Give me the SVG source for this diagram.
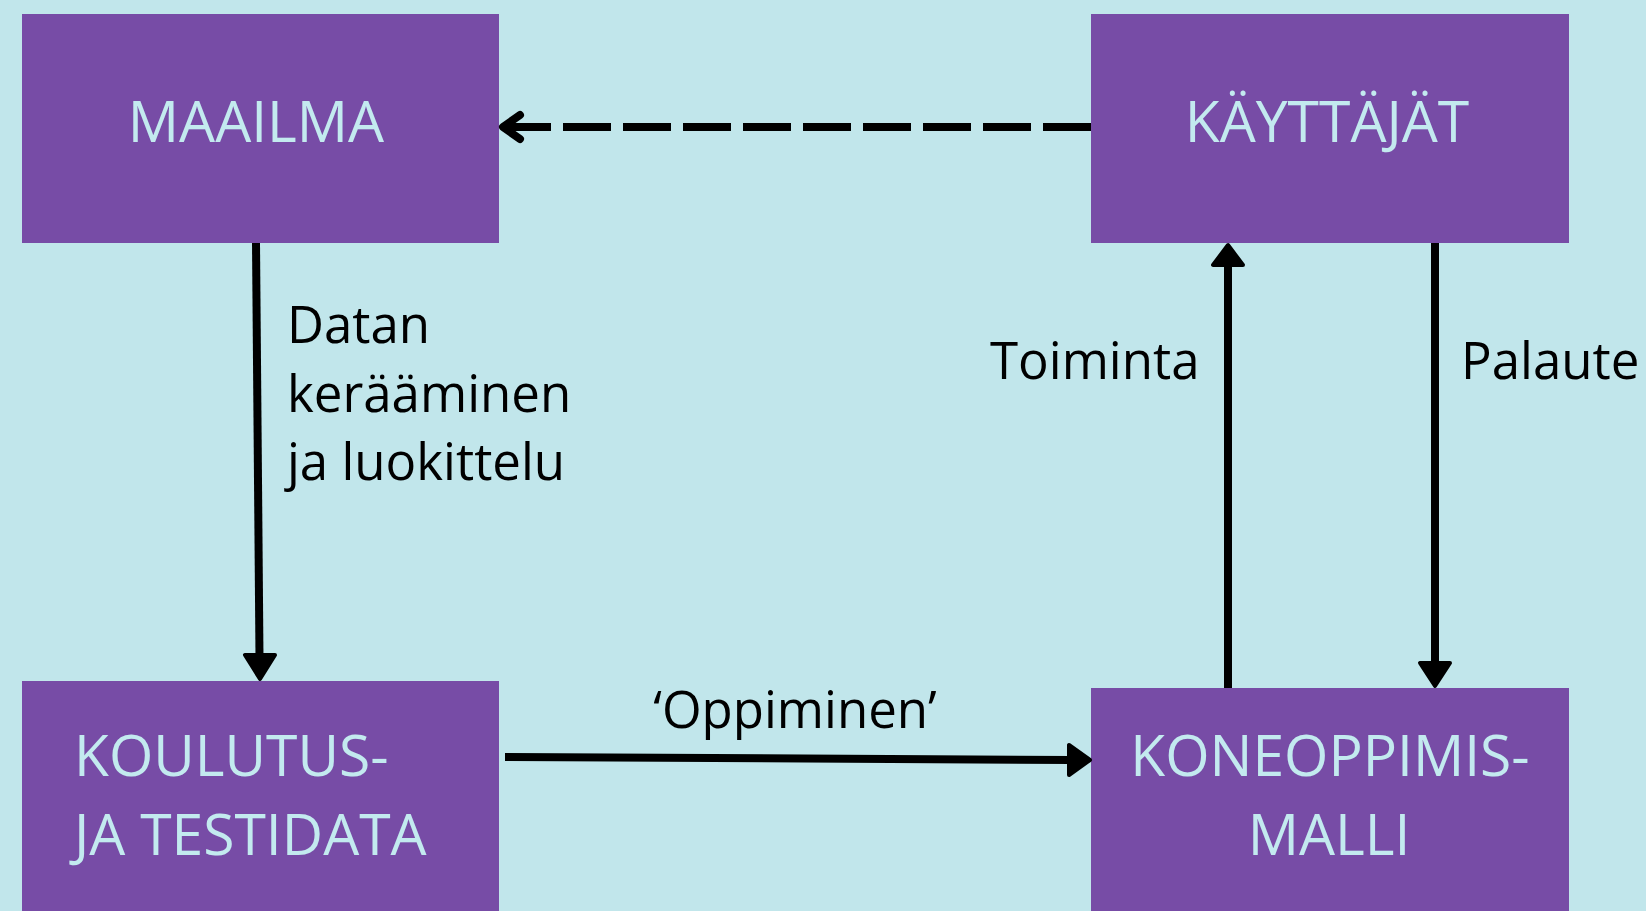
<svg xmlns="http://www.w3.org/2000/svg" width="1646" height="911" viewBox="0 0 1646 911">
<style>
.box{fill:#774ca6}
.bl{font-family:"Open Sans","Liberation Sans",sans-serif;font-size:57px;fill:#c3eaef}
.lb{font-family:"Open Sans","Liberation Sans",sans-serif;font-size:51px;fill:#000}
.ln{stroke:#000;stroke-width:8;fill:none}
.hd{fill:#000;stroke:#000;stroke-width:4;stroke-linejoin:round}
</style>
<rect width="1646" height="911" fill="#c1e6eb"/>
<g id="maailma"><rect class="box" x="22" y="14" width="477" height="229"/><text class="bl" x="256" y="142" text-anchor="middle">MAAILMA</text></g>
<g id="kayttajat"><rect class="box" x="1091" y="14" width="478" height="229"/><text class="bl" x="1327" y="142" text-anchor="middle">KÄYTTÄJÄT</text></g>
<g id="koulutus"><rect class="box" x="22" y="681" width="477" height="230"/><text class="bl" x="74" y="776">KOULUTUS-</text><text class="bl" x="74" y="855">JA TESTIDATA</text></g>
<g id="koneoppimis"><rect class="box" x="1091" y="688" width="478" height="223"/><text class="bl" x="1330" y="776" text-anchor="middle">KONEOPPIMIS-</text><text class="bl" x="1329" y="855" text-anchor="middle">MALLI</text></g>
<g id="connectors">
<path class="ln" d="M1091,127 L503,127" stroke-dasharray="48 12"/>
<path class="ln" d="M520,115 L503,127 L520,139" stroke-linecap="round" stroke-linejoin="round"/>
<path class="ln" d="M256,243 L259.5,658"/>
<path class="hd" d="M245,655 L275,655 L260,679 Z"/>
<path class="ln" d="M505,757 L1071,760"/>
<path class="hd" d="M1069,745 L1069,775 L1090,760 Z"/>
<path class="ln" d="M1228,688 L1228,263"/>
<path class="hd" d="M1213,265 L1243,265 L1228,245 Z"/>
<path class="ln" d="M1435,243 L1435,666"/>
<path class="hd" d="M1420,663 L1450,663 L1435,686 Z"/>
</g>
<text class="lb" x="287" y="343">Datan</text>
<text class="lb" x="287" y="412">kerääminen</text>
<text class="lb" x="287" y="480">ja luokittelu</text>
<text class="lb" x="990" y="379">Toiminta</text>
<text class="lb" x="1461" y="379">Palaute</text>
<text class="lb" x="795" y="728" text-anchor="middle">‘Oppiminen’</text>
</svg>
